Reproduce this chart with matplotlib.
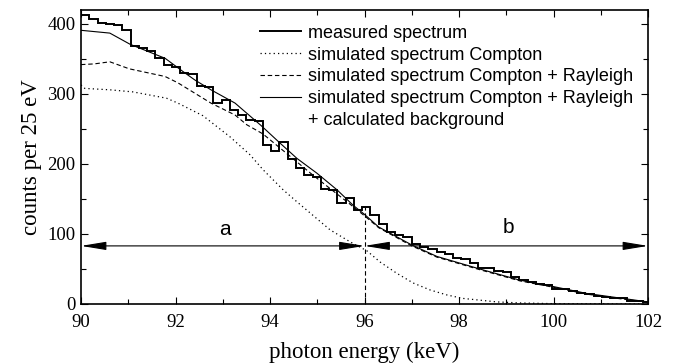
import numpy as np
import matplotlib
matplotlib.use("Agg")
import matplotlib.pyplot as plt
from matplotlib.lines import Line2D

# measured spectrum, 0.175 keV bins starting at 90 keV
bin_start = 90.0
bin_width = 0.175
measured = [413, 407, 401, 400, 398, 391, 369, 366, 362, 351,
            341, 339, 330, 329, 311, 310, 287, 292, 277, 270,
            263, 262, 227, 218, 232, 207, 194, 184, 182, 165,
            163, 145, 151, 134, 138, 127, 115, 103, 98, 96,
            86, 81, 78, 74, 72, 66, 65, 59, 52, 51,
            47, 46, 39, 34, 32, 29, 27, 22, 21, 19,
            16, 14, 11, 10, 9, 8, 5, 4, 3]

# simulated Compton + Rayleigh + background (thin solid)
full_E = [90.0, 90.61, 91.04, 91.78, 92.16, 92.41, 92.75, 93.26, 93.81, 94.21,
          94.57, 94.99, 95.42, 95.76, 96.0, 96.3, 97.01, 97.53, 98.44, 99.29,
          99.99, 100.71, 101.41, 102.0]
full_C = [391, 387, 371, 351, 332, 320, 306, 287, 255, 230,
          208, 187, 163, 141, 128, 110, 84, 68, 50, 34,
          25, 15, 8.5, 3]

# simulated Compton + Rayleigh (dashed)
cr_E = [90.0, 90.28, 90.61, 91.02, 91.78, 92.05, 92.75, 93.26, 93.51, 93.85,
        94.91, 95.63, 96.0, 96.3, 97.0, 97.53, 98.44, 99.29, 99.99, 100.71,
        101.41, 102.0]
cr_C = [342, 343, 346, 336, 325, 316, 287, 270, 256, 243,
        184, 146, 126, 109, 83, 67, 49, 33, 24, 14,
        7.5, 2.5]

# simulated Compton (dotted)
c_E = [90.0, 90.08, 90.61, 91.1, 91.81, 92.05, 92.58, 93.15, 93.58, 93.85,
       94.28, 94.57, 94.85, 95.27, 95.69, 96.05, 96.33, 96.68, 97.03, 97.39,
       97.74, 98.08, 98.44, 98.8, 99.3, 100.0, 101.0, 102.0]
c_C = [313, 308, 306, 303, 294, 287, 269, 239, 213, 192,
       163, 146, 130, 106, 89, 76, 60, 44, 30, 20,
       13, 8, 5.5, 3, 1.5, 0.5, 0.2, 0]

boundary_E = 96.0
boundary_top = 139
arrow_C = 83
region_a = (90.0, 96.0)
region_b = (96.0, 102.0)

serif = ["Liberation Serif", "DejaVu Serif"]
sans = ["Liberation Sans", "DejaVu Sans"]

fig = plt.figure(figsize=(6.74, 3.63), dpi=100)
ax = fig.add_axes([81 / 674, 1 - 304 / 363, 567 / 674, 294 / 363])

edges = bin_start + bin_width * np.arange(len(measured) + 1)
ax.stairs(measured, edges, color="black", lw=1.4, baseline=None)
ax.plot(c_E, c_C, color="black", lw=0.9, linestyle=(0, (1, 2.5)))
ax.plot(cr_E, cr_C, color="black", lw=0.8, linestyle=(0, (4, 2.5)))
ax.plot(full_E, full_C, color="black", lw=0.8)

ax.plot([boundary_E, boundary_E], [0, boundary_top], color="black", lw=0.8,
        linestyle=(0, (4, 2.5)))

for lo, hi in (region_a, region_b):
    ax.annotate("", xy=(lo, arrow_C), xytext=(hi, arrow_C),
                arrowprops=dict(arrowstyle="<|-|>,head_length=1.1,head_width=0.18",
                                mutation_scale=14, lw=0.8, color="black",
                                shrinkA=0, shrinkB=0))
ax.text(93.05, 107, "a", fontsize=15, family=sans, ha="center", va="center")
ax.text(99.04, 109, "b", fontsize=15, family=sans, ha="center", va="center")

ax.set_xlim(90, 102)
ax.set_ylim(0, 420)
ax.set_xticks(np.arange(90, 103, 2))
ax.set_xticks(np.arange(91, 102, 2), minor=True)
ax.set_yticks(np.arange(0, 401, 100))
ax.set_yticks(np.arange(50, 401, 100), minor=True)
ax.tick_params(which="both", direction="in", top=True, right=True,
               labelsize=13.5, width=0.8)
ax.tick_params(which="major", length=5)
ax.tick_params(axis="x", pad=7)
ax.tick_params(axis="y", pad=4)
ax.tick_params(which="minor", length=3.5)
for lab in ax.get_xticklabels() + ax.get_yticklabels():
    lab.set_family(serif)
for sp in ax.spines.values():
    sp.set_linewidth(1.2)

ax.set_xlabel("photon energy (keV)", fontsize=16.5, family=serif, labelpad=8)
ax.set_ylabel("counts per 25 eV", fontsize=16.5, family=serif, labelpad=4)

handles = [Line2D([], [], color="black", lw=1.4),
           Line2D([], [], color="black", lw=0.9, linestyle=(0, (1, 2.5))),
           Line2D([], [], color="black", lw=0.8, linestyle=(0, (4, 2.5))),
           Line2D([], [], color="black", lw=0.8),
           Line2D([], [], linestyle="none")]
labels = ["measured spectrum",
          "simulated spectrum Compton",
          "simulated spectrum Compton + Rayleigh",
          "simulated spectrum Compton + Rayleigh",
          "+ calculated background"]
ax.legend(handles, labels, loc="upper left", bbox_to_anchor=(0.3157, 0.95),
          frameon=False, prop={"family": sans, "size": 13},
          handlelength=2.25, handletextpad=0.4, labelspacing=0.27,
          borderaxespad=0, borderpad=0)

fig.savefig("out.png", dpi=100)
